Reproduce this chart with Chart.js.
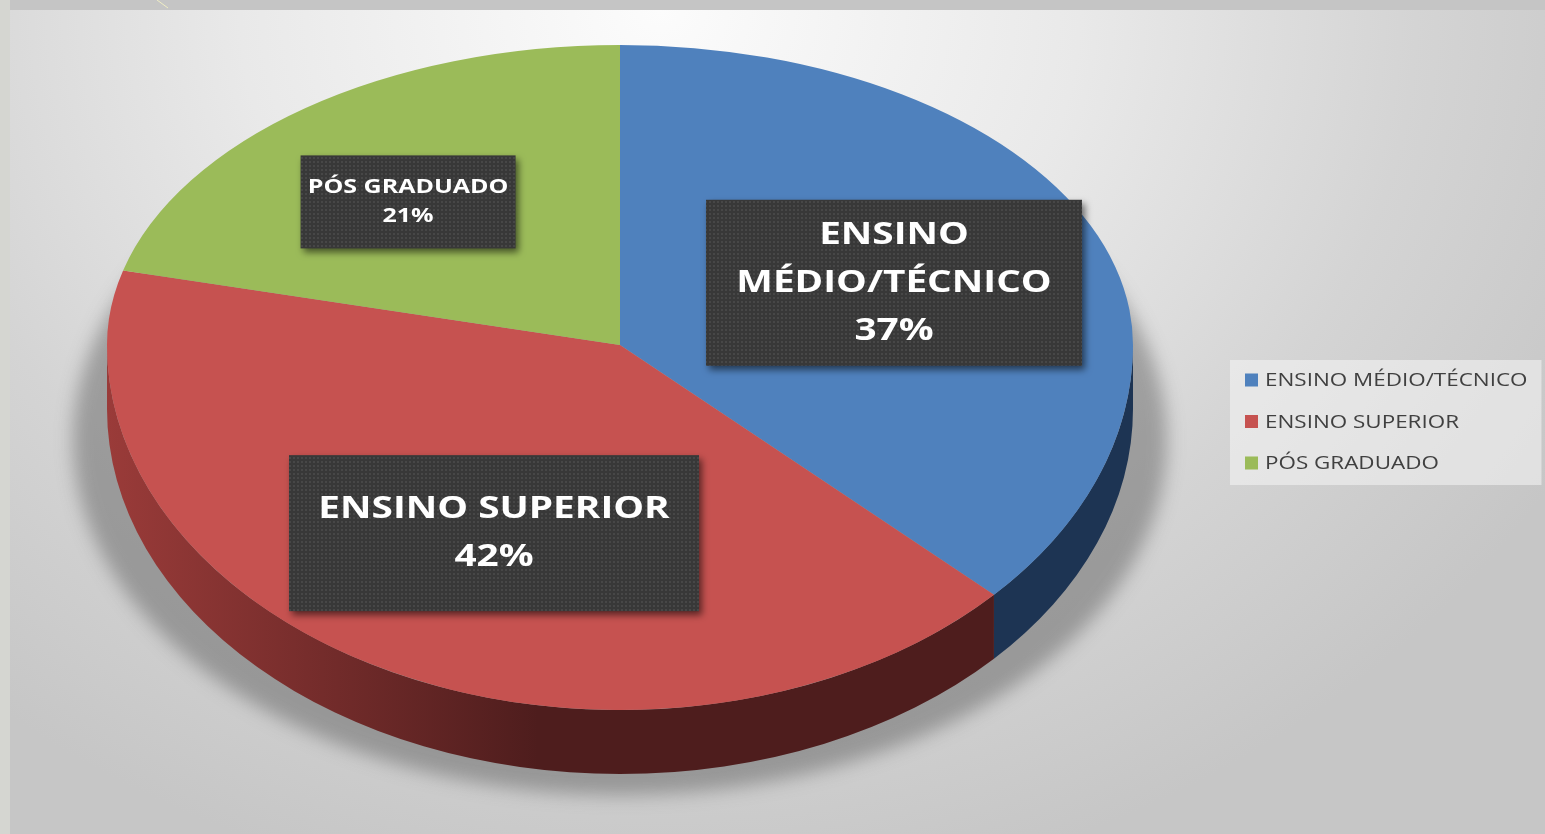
<!DOCTYPE html>
<html>
<head>
<meta charset="utf-8">
<script src="https://cdn.jsdelivr.net/npm/chart.js@4.4.1/dist/chart.umd.min.js"></script>
<style>
    html, body { margin: 0; padding: 0; width: 1545px; height: 834px; overflow: hidden; background: #c5c5c5; }
    #leftBand { position: absolute; left: 0; top: 0; width: 10px; height: 834px; background: #d5d6d1; }
    #panel {
        position: absolute; left: 10px; top: 10px; width: 1535px; height: 824px;
        background: radial-gradient(ellipse 1050px 900px at 650px 0px, #fcfcfc 0%, #e9e9e9 40%, #d4d4d4 72%, #c6c6c6 100%);
    }
    #chart { position: absolute; left: 0; top: 0; }
</style>
</head>
<body>
<div id="leftBand"></div>
<div id="panel"></div>
<canvas id="chart" width="1545" height="834"></canvas>
<script>
const categories = ['ENSINO MÉDIO/TÉCNICO', 'ENSINO SUPERIOR', 'PÓS GRADUADO'];
const values = [37, 42, 21];

const topColors = ['#4f81bd', '#c65250', '#9bbb59'];
// side colours: lit from the left, darker toward the right
const sideColors = [['#2f5283', '#1d3453'], ['#9a3b39', '#4e1d1d'], ['#6f8f35', '#4d6322']];

// 3d pie geometry on the page (back half flatter than the front: perspective)
const CX = 620, CY = 345, RX = 513, RY_TOP = 300, RY_BOT = 365, DEPTH = 64;

// data label boxes
const labelRadius = [0.573, 0.571, 0.631];
const labelShift = [0.038, -0.058, -0.054];
const labelBox = [[376, 166], [410, 156], [215, 93]];
const labelFont = [31, 31, 20];
const labelLine = [48, 48, 29];
const textStretch = 1.25;   // the slide text is drawn a bit wide

// legend block on the right
const legendX = 1245, legendY = 380, legendPitch = 41.5, legendStretch = 1.18;

function makeTexture(ctx) {
    const c = document.createElement('canvas');
    c.width = 4; c.height = 4;
    const g = c.getContext('2d');
    g.fillStyle = '#383838';
    g.fillRect(0, 0, 4, 4);
    g.fillStyle = '#474747';
    g.fillRect(1, 1, 2, 2);
    return ctx.createPattern(c, 'repeat');
}

function frontSpans(a, b) {
    const out = [];
    for (let k = -1; k <= 1; k++) {
        const lo = Math.max(a, k * 2 * Math.PI);
        const hi = Math.min(b, k * 2 * Math.PI + Math.PI);
        if (hi > lo) out.push([lo, hi]);
    }
    return out;
}

function wrapText(ctx, text, maxWidth) {
    const words = text.split(' ');
    const lines = [];
    let line = '';
    for (let w of words) {
        const test = line ? line + ' ' + w : w;
        if (ctx.measureText(test).width > maxWidth && line) {
            lines.push(line);
            line = w;
        } else {
            line = test;
        }
    }
    if (line) lines.push(line);
    return lines;
}

function stretchedText(ctx, text, x, y, sx) {
    ctx.save();
    ctx.translate(x, y);
    ctx.scale(sx, 1);
    ctx.fillText(text, 0, 0);
    ctx.restore();
}

// map the flat pie onto one half of the top face
function faceTransform(ctx, arc, ry) {
    ctx.translate(CX, CY);
    ctx.scale(RX / arc.outerRadius, ry / arc.outerRadius);
    ctx.translate(-arc.x, -arc.y);
}

const backdrop = {
    id: 'backdrop',
    beforeDraw(chart) {
        const ctx = chart.ctx;
        // small stray line at the top edge
        ctx.save();
        ctx.strokeStyle = '#efedc4';
        ctx.lineWidth = 1;
        ctx.beginPath();
        ctx.moveTo(157, 0);
        ctx.lineTo(168, 8);
        ctx.stroke();
        ctx.restore();
    },
    afterDraw(chart) {
        const ctx = chart.ctx;
        ctx.save();
        ctx.font = '19px "Open Sans"';
        let maxW = 0;
        categories.forEach(c => { maxW = Math.max(maxW, ctx.measureText(c).width * legendStretch); });
        const textX = legendX + 20;
        const top = legendY - 20;
        const bottom = legendY + (categories.length - 1) * legendPitch + 22;
        ctx.fillStyle = 'rgba(245,245,245,0.55)';
        ctx.fillRect(legendX - 15, top, textX + maxW + 14 - (legendX - 15), bottom - top);

        ctx.textBaseline = 'middle';
        categories.forEach((c, i) => {
            const y = legendY + i * legendPitch;
            ctx.fillStyle = topColors[i];
            ctx.fillRect(legendX, y - 6.5, 13, 13);
            ctx.fillStyle = '#404040';
            stretchedText(ctx, c, textX, y + 1, legendStretch);
        });
        ctx.restore();
    }
};

const pie3d = {
    id: 'pie3d',
    beforeDatasetsDraw(chart) {
        const ctx = chart.ctx;
        const arcs = chart.getDatasetMeta(0).data;

        // soft floor shadow
        ctx.save();
        ctx.filter = 'blur(9px)';
        ctx.fillStyle = 'rgba(70,70,70,0.4)';
        ctx.beginPath();
        ctx.ellipse(CX, 440, RX + 34, 355, 0, 0, Math.PI * 2);
        ctx.fill();
        ctx.restore();

        // extruded sides
        arcs.forEach((arc, i) => {
            const grad = ctx.createLinearGradient(CX - RX, 0, CX + RX, 0);
            grad.addColorStop(0, sideColors[i][0]);
            grad.addColorStop(0.42, sideColors[i][1]);
            grad.addColorStop(1, sideColors[i][1]);
            frontSpans(arc.startAngle, arc.endAngle).forEach(([lo, hi]) => {
                ctx.beginPath();
                ctx.ellipse(CX, CY, RX, RY_BOT, 0, lo, hi, false);
                ctx.ellipse(CX, CY + DEPTH, RX, RY_BOT, 0, hi, lo, true);
                ctx.closePath();
                ctx.fillStyle = grad;
                ctx.fill();
            });
        });

        // back half of the top face: drawn by the chart itself
        ctx.save();
        ctx.beginPath();
        ctx.rect(0, 0, chart.width, CY);
        ctx.clip();
        faceTransform(ctx, arcs[0], RY_TOP);
    },
    afterDatasetsDraw(chart) {
        const ctx = chart.ctx;
        ctx.restore();

        const arcs = chart.getDatasetMeta(0).data;

        // front half of the top face
        ctx.save();
        ctx.beginPath();
        ctx.rect(0, CY, chart.width, chart.height - CY);
        ctx.clip();
        faceTransform(ctx, arcs[0], RY_BOT);
        arcs.forEach(arc => arc.draw(ctx));
        ctx.restore();

        const total = values.reduce((s, v) => s + v, 0);
        const texture = makeTexture(ctx);

        arcs.forEach((arc, i) => {
            const mid = (arc.startAngle + arc.endAngle) / 2 + labelShift[i];
            const s = Math.sin(mid);
            const lx = CX + Math.cos(mid) * RX * labelRadius[i];
            const ly = CY + s * (s < 0 ? RY_TOP : RY_BOT) * labelRadius[i];
            const w = labelBox[i][0], h = labelBox[i][1];

            ctx.save();
            ctx.shadowColor = 'rgba(0,0,0,0.55)';
            ctx.shadowBlur = 7;
            ctx.shadowOffsetX = 3;
            ctx.shadowOffsetY = 4;
            ctx.fillStyle = texture;
            ctx.fillRect(lx - w / 2, ly - h / 2, w, h);
            ctx.restore();

            ctx.save();
            ctx.font = 'bold ' + labelFont[i] + 'px "Open Sans"';
            ctx.fillStyle = '#ffffff';
            ctx.textAlign = 'center';
            ctx.textBaseline = 'middle';
            const lines = wrapText(ctx, categories[i], (w - 8) / textStretch);
            lines.push(Math.round(values[i] / total * 100) + '%');
            const startY = ly - (lines.length - 1) * labelLine[i] / 2;
            lines.forEach((t, k) => stretchedText(ctx, t, lx, startY + k * labelLine[i], textStretch));
            ctx.restore();
        });
    }
};

const ctx = document.getElementById('chart').getContext('2d');

new Chart(ctx, {
    type: 'pie',
    data: {
        labels: categories,
        datasets: [{
            data: values,
            backgroundColor: topColors,
            borderWidth: 0
        }]
    },
    options: {
        responsive: false,
        animation: false,
        plugins: {
            legend: { display: false },
            tooltip: { enabled: false }
        }
    },
    plugins: [backdrop, pie3d]
});
</script>
</body>
</html>
